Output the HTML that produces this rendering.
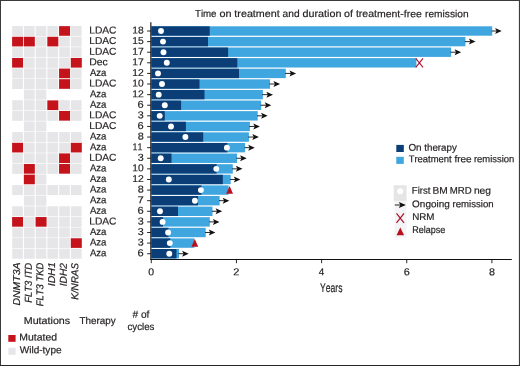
<!DOCTYPE html>
<html lang="en"><head><meta charset="utf-8"><title>Time on treatment and duration of treatment-free remission</title>
<style>
html,body{margin:0;padding:0;background:#fff;}
body{width:520px;height:366px;overflow:hidden;}
svg{display:block;position:absolute;left:0;top:0;}
text{font-family:"Liberation Sans",sans-serif;fill:#231f20;stroke:#231f20;stroke-width:0.2;font-kerning:none;}
.i{font-style:italic;}
</style></head><body>
<svg width="520" height="366" viewBox="0 0 520 366">
<defs><filter id="soft" x="0" y="0" width="520" height="366" filterUnits="userSpaceOnUse" color-interpolation-filters="sRGB"><feGaussianBlur stdDeviation="0.4"/></filter></defs>
<rect x="0" y="0" width="520" height="366" fill="#fff"/>
<g filter="url(#soft)">
<rect x="0" y="0" width="520" height="366" fill="#fff"/>
<g id="grid">
<rect x="12.2" y="26" width="10.7" height="10" fill="#e6e6e9"/>
<rect x="23.94" y="26" width="10.7" height="10" fill="#e6e6e9"/>
<rect x="35.68" y="26" width="10.7" height="10" fill="#e6e6e9"/>
<rect x="47.42" y="26" width="10.7" height="10" fill="#e6e6e9"/>
<rect x="59.06" y="26.15" width="11" height="9.65" fill="#c5131c"/>
<rect x="70.9" y="26" width="10.7" height="10" fill="#e6e6e9"/>
<rect x="12.1" y="36.76" width="11" height="9.65" fill="#c5131c"/>
<rect x="23.84" y="36.76" width="11" height="9.65" fill="#c5131c"/>
<rect x="35.68" y="36.61" width="10.7" height="10" fill="#e6e6e9"/>
<rect x="47.32" y="36.76" width="11" height="9.65" fill="#c5131c"/>
<rect x="59.16" y="36.61" width="10.7" height="10" fill="#e6e6e9"/>
<rect x="70.9" y="36.61" width="10.7" height="10" fill="#e6e6e9"/>
<rect x="12.2" y="47.21" width="10.7" height="10" fill="#e6e6e9"/>
<rect x="23.94" y="47.21" width="10.7" height="10" fill="#e6e6e9"/>
<rect x="35.68" y="47.21" width="10.7" height="10" fill="#e6e6e9"/>
<rect x="47.42" y="47.21" width="10.7" height="10" fill="#e6e6e9"/>
<rect x="59.16" y="47.21" width="10.7" height="10" fill="#e6e6e9"/>
<rect x="70.9" y="47.21" width="10.7" height="10" fill="#e6e6e9"/>
<rect x="12.1" y="57.96" width="11" height="9.65" fill="#c5131c"/>
<rect x="23.94" y="57.81" width="10.7" height="10" fill="#e6e6e9"/>
<rect x="35.68" y="57.81" width="10.7" height="10" fill="#e6e6e9"/>
<rect x="47.42" y="57.81" width="10.7" height="10" fill="#e6e6e9"/>
<rect x="59.16" y="57.81" width="10.7" height="10" fill="#e6e6e9"/>
<rect x="70.8" y="57.96" width="11" height="9.65" fill="#c5131c"/>
<rect x="12.2" y="68.42" width="10.7" height="10" fill="#e6e6e9"/>
<rect x="23.94" y="68.42" width="10.7" height="10" fill="#e6e6e9"/>
<rect x="35.68" y="68.42" width="10.7" height="10" fill="#e6e6e9"/>
<rect x="47.42" y="68.42" width="10.7" height="10" fill="#e6e6e9"/>
<rect x="59.06" y="68.57" width="11" height="9.65" fill="#c5131c"/>
<rect x="70.9" y="68.42" width="10.7" height="10" fill="#e6e6e9"/>
<rect x="12.2" y="79.03" width="10.7" height="10" fill="#e6e6e9"/>
<rect x="23.94" y="79.03" width="10.7" height="10" fill="#e6e6e9"/>
<rect x="35.68" y="79.03" width="10.7" height="10" fill="#e6e6e9"/>
<rect x="47.42" y="79.03" width="10.7" height="10" fill="#e6e6e9"/>
<rect x="59.06" y="79.18" width="11" height="9.65" fill="#c5131c"/>
<rect x="70.9" y="79.03" width="10.7" height="10" fill="#e6e6e9"/>
<rect x="23.94" y="89.63" width="10.7" height="10" fill="#e6e6e9"/>
<rect x="35.68" y="89.63" width="10.7" height="10" fill="#e6e6e9"/>
<rect x="12.2" y="100.23" width="10.7" height="10" fill="#e6e6e9"/>
<rect x="23.94" y="100.23" width="10.7" height="10" fill="#e6e6e9"/>
<rect x="35.68" y="100.23" width="10.7" height="10" fill="#e6e6e9"/>
<rect x="47.32" y="100.39" width="11" height="9.65" fill="#c5131c"/>
<rect x="59.16" y="100.23" width="10.7" height="10" fill="#e6e6e9"/>
<rect x="70.9" y="100.23" width="10.7" height="10" fill="#e6e6e9"/>
<rect x="12.2" y="110.84" width="10.7" height="10" fill="#e6e6e9"/>
<rect x="23.94" y="110.84" width="10.7" height="10" fill="#e6e6e9"/>
<rect x="35.68" y="110.84" width="10.7" height="10" fill="#e6e6e9"/>
<rect x="47.42" y="110.84" width="10.7" height="10" fill="#e6e6e9"/>
<rect x="59.06" y="110.99" width="11" height="9.65" fill="#c5131c"/>
<rect x="70.9" y="110.84" width="10.7" height="10" fill="#e6e6e9"/>
<rect x="23.94" y="121.45" width="10.7" height="10" fill="#e6e6e9"/>
<rect x="35.68" y="121.45" width="10.7" height="10" fill="#e6e6e9"/>
<rect x="12.2" y="132.05" width="10.7" height="10" fill="#e6e6e9"/>
<rect x="23.94" y="132.05" width="10.7" height="10" fill="#e6e6e9"/>
<rect x="35.68" y="132.05" width="10.7" height="10" fill="#e6e6e9"/>
<rect x="47.42" y="132.05" width="10.7" height="10" fill="#e6e6e9"/>
<rect x="59.16" y="132.05" width="10.7" height="10" fill="#e6e6e9"/>
<rect x="70.9" y="132.05" width="10.7" height="10" fill="#e6e6e9"/>
<rect x="12.1" y="142.81" width="11" height="9.65" fill="#c5131c"/>
<rect x="23.94" y="142.66" width="10.7" height="10" fill="#e6e6e9"/>
<rect x="35.68" y="142.66" width="10.7" height="10" fill="#e6e6e9"/>
<rect x="47.42" y="142.66" width="10.7" height="10" fill="#e6e6e9"/>
<rect x="59.16" y="142.66" width="10.7" height="10" fill="#e6e6e9"/>
<rect x="70.8" y="142.81" width="11" height="9.65" fill="#c5131c"/>
<rect x="12.2" y="153.26" width="10.7" height="10" fill="#e6e6e9"/>
<rect x="23.94" y="153.26" width="10.7" height="10" fill="#e6e6e9"/>
<rect x="35.68" y="153.26" width="10.7" height="10" fill="#e6e6e9"/>
<rect x="47.42" y="153.26" width="10.7" height="10" fill="#e6e6e9"/>
<rect x="59.06" y="153.41" width="11" height="9.65" fill="#c5131c"/>
<rect x="70.9" y="153.26" width="10.7" height="10" fill="#e6e6e9"/>
<rect x="12.2" y="163.87" width="10.7" height="10" fill="#e6e6e9"/>
<rect x="23.84" y="164.02" width="11" height="9.65" fill="#c5131c"/>
<rect x="35.68" y="163.87" width="10.7" height="10" fill="#e6e6e9"/>
<rect x="47.42" y="163.87" width="10.7" height="10" fill="#e6e6e9"/>
<rect x="59.06" y="164.02" width="11" height="9.65" fill="#c5131c"/>
<rect x="70.9" y="163.87" width="10.7" height="10" fill="#e6e6e9"/>
<rect x="23.84" y="174.62" width="11" height="9.65" fill="#c5131c"/>
<rect x="35.68" y="174.47" width="10.7" height="10" fill="#e6e6e9"/>
<rect x="12.2" y="185.08" width="10.7" height="10" fill="#e6e6e9"/>
<rect x="23.94" y="185.08" width="10.7" height="10" fill="#e6e6e9"/>
<rect x="35.68" y="185.08" width="10.7" height="10" fill="#e6e6e9"/>
<rect x="47.42" y="185.08" width="10.7" height="10" fill="#e6e6e9"/>
<rect x="59.16" y="185.08" width="10.7" height="10" fill="#e6e6e9"/>
<rect x="70.9" y="185.08" width="10.7" height="10" fill="#e6e6e9"/>
<rect x="23.94" y="195.68" width="10.7" height="10" fill="#e6e6e9"/>
<rect x="35.68" y="195.68" width="10.7" height="10" fill="#e6e6e9"/>
<rect x="12.2" y="206.28" width="10.7" height="10" fill="#e6e6e9"/>
<rect x="23.94" y="206.28" width="10.7" height="10" fill="#e6e6e9"/>
<rect x="35.68" y="206.28" width="10.7" height="10" fill="#e6e6e9"/>
<rect x="47.42" y="206.28" width="10.7" height="10" fill="#e6e6e9"/>
<rect x="59.16" y="206.28" width="10.7" height="10" fill="#e6e6e9"/>
<rect x="70.9" y="206.28" width="10.7" height="10" fill="#e6e6e9"/>
<rect x="12.1" y="217.04" width="11" height="9.65" fill="#c5131c"/>
<rect x="23.94" y="216.89" width="10.7" height="10" fill="#e6e6e9"/>
<rect x="35.58" y="217.04" width="11" height="9.65" fill="#c5131c"/>
<rect x="47.42" y="216.89" width="10.7" height="10" fill="#e6e6e9"/>
<rect x="59.16" y="216.89" width="10.7" height="10" fill="#e6e6e9"/>
<rect x="70.9" y="216.89" width="10.7" height="10" fill="#e6e6e9"/>
<rect x="12.2" y="227.5" width="10.7" height="10" fill="#e6e6e9"/>
<rect x="23.94" y="227.5" width="10.7" height="10" fill="#e6e6e9"/>
<rect x="35.68" y="227.5" width="10.7" height="10" fill="#e6e6e9"/>
<rect x="47.42" y="227.5" width="10.7" height="10" fill="#e6e6e9"/>
<rect x="59.16" y="227.5" width="10.7" height="10" fill="#e6e6e9"/>
<rect x="70.9" y="227.5" width="10.7" height="10" fill="#e6e6e9"/>
<rect x="12.2" y="238.1" width="10.7" height="10" fill="#e6e6e9"/>
<rect x="23.94" y="238.1" width="10.7" height="10" fill="#e6e6e9"/>
<rect x="35.68" y="238.1" width="10.7" height="10" fill="#e6e6e9"/>
<rect x="47.42" y="238.1" width="10.7" height="10" fill="#e6e6e9"/>
<rect x="59.16" y="238.1" width="10.7" height="10" fill="#e6e6e9"/>
<rect x="70.8" y="238.25" width="11" height="9.65" fill="#c5131c"/>
<rect x="12.2" y="248.71" width="10.7" height="10" fill="#e6e6e9"/>
<rect x="23.94" y="248.71" width="10.7" height="10" fill="#e6e6e9"/>
<rect x="35.68" y="248.71" width="10.7" height="10" fill="#e6e6e9"/>
<rect x="47.42" y="248.71" width="10.7" height="10" fill="#e6e6e9"/>
<rect x="59.16" y="248.71" width="10.7" height="10" fill="#e6e6e9"/>
<rect x="70.9" y="248.71" width="10.7" height="10" fill="#e6e6e9"/>
</g>
<g id="labels">
<text transform="translate(89.26 33.5) rotate(0.04)" font-size="10" textLength="27.23" lengthAdjust="spacingAndGlyphs">LDAC</text>
<text transform="translate(132.22 33.5) rotate(0.04)" font-size="10" textLength="11.43" lengthAdjust="spacingAndGlyphs">18</text>
<text transform="translate(89.26 44.11) rotate(0.04)" font-size="10" textLength="27.23" lengthAdjust="spacingAndGlyphs">LDAC</text>
<text transform="translate(132.22 44.11) rotate(0.04)" font-size="10" textLength="11.41" lengthAdjust="spacingAndGlyphs">15</text>
<text transform="translate(89.26 54.71) rotate(0.04)" font-size="10" textLength="27.23" lengthAdjust="spacingAndGlyphs">LDAC</text>
<text transform="translate(132.21 54.71) rotate(0.04)" font-size="10" textLength="11.51" lengthAdjust="spacingAndGlyphs">17</text>
<text transform="translate(89.25 65.31) rotate(0.04)" font-size="10" textLength="18.53" lengthAdjust="spacingAndGlyphs">Dec</text>
<text transform="translate(132.21 65.31) rotate(0.04)" font-size="10" textLength="11.51" lengthAdjust="spacingAndGlyphs">17</text>
<text transform="translate(89.88 75.92) rotate(0.04)" font-size="10" textLength="16.42" lengthAdjust="spacingAndGlyphs">Aza</text>
<text transform="translate(132.21 75.92) rotate(0.04)" font-size="10" textLength="11.51" lengthAdjust="spacingAndGlyphs">12</text>
<text transform="translate(89.26 86.53) rotate(0.04)" font-size="10" textLength="27.23" lengthAdjust="spacingAndGlyphs">LDAC</text>
<text transform="translate(132.22 86.53) rotate(0.04)" font-size="10" textLength="11.38" lengthAdjust="spacingAndGlyphs">10</text>
<text transform="translate(89.88 97.13) rotate(0.04)" font-size="10" textLength="16.42" lengthAdjust="spacingAndGlyphs">Aza</text>
<text transform="translate(132.21 97.13) rotate(0.04)" font-size="10" textLength="11.51" lengthAdjust="spacingAndGlyphs">12</text>
<text transform="translate(89.88 107.73) rotate(0.04)" font-size="10" textLength="16.42" lengthAdjust="spacingAndGlyphs">Aza</text>
<text transform="translate(137.54 107.73) rotate(0.04)" font-size="10" textLength="6.15" lengthAdjust="spacingAndGlyphs">6</text>
<text transform="translate(89.26 118.34) rotate(0.04)" font-size="10" textLength="27.23" lengthAdjust="spacingAndGlyphs">LDAC</text>
<text transform="translate(137.69 118.34) rotate(0.04)" font-size="10" textLength="5.98" lengthAdjust="spacingAndGlyphs">3</text>
<text transform="translate(89.26 128.94) rotate(0.04)" font-size="10" textLength="27.23" lengthAdjust="spacingAndGlyphs">LDAC</text>
<text transform="translate(137.54 128.94) rotate(0.04)" font-size="10" textLength="6.15" lengthAdjust="spacingAndGlyphs">6</text>
<text transform="translate(89.88 139.55) rotate(0.04)" font-size="10" textLength="16.42" lengthAdjust="spacingAndGlyphs">Aza</text>
<text transform="translate(137.63 139.55) rotate(0.04)" font-size="10" textLength="6.04" lengthAdjust="spacingAndGlyphs">8</text>
<text transform="translate(89.88 150.16) rotate(0.04)" font-size="10" textLength="16.42" lengthAdjust="spacingAndGlyphs">Aza</text>
<text transform="translate(132.62 150.16) rotate(0.04)" font-size="10" textLength="9.91" lengthAdjust="spacingAndGlyphs">11</text>
<text transform="translate(89.26 160.76) rotate(0.04)" font-size="10" textLength="27.23" lengthAdjust="spacingAndGlyphs">LDAC</text>
<text transform="translate(137.69 160.76) rotate(0.04)" font-size="10" textLength="5.98" lengthAdjust="spacingAndGlyphs">3</text>
<text transform="translate(89.88 171.37) rotate(0.04)" font-size="10" textLength="16.42" lengthAdjust="spacingAndGlyphs">Aza</text>
<text transform="translate(132.22 171.37) rotate(0.04)" font-size="10" textLength="11.38" lengthAdjust="spacingAndGlyphs">10</text>
<text transform="translate(89.88 181.97) rotate(0.04)" font-size="10" textLength="16.42" lengthAdjust="spacingAndGlyphs">Aza</text>
<text transform="translate(132.21 181.97) rotate(0.04)" font-size="10" textLength="11.51" lengthAdjust="spacingAndGlyphs">12</text>
<text transform="translate(89.88 192.58) rotate(0.04)" font-size="10" textLength="16.42" lengthAdjust="spacingAndGlyphs">Aza</text>
<text transform="translate(137.63 192.58) rotate(0.04)" font-size="10" textLength="6.04" lengthAdjust="spacingAndGlyphs">8</text>
<text transform="translate(89.88 203.18) rotate(0.04)" font-size="10" textLength="16.42" lengthAdjust="spacingAndGlyphs">Aza</text>
<text transform="translate(137.52 203.18) rotate(0.04)" font-size="10" textLength="6.24" lengthAdjust="spacingAndGlyphs">7</text>
<text transform="translate(89.88 213.78) rotate(0.04)" font-size="10" textLength="16.42" lengthAdjust="spacingAndGlyphs">Aza</text>
<text transform="translate(137.54 213.78) rotate(0.04)" font-size="10" textLength="6.15" lengthAdjust="spacingAndGlyphs">6</text>
<text transform="translate(89.26 224.39) rotate(0.04)" font-size="10" textLength="27.23" lengthAdjust="spacingAndGlyphs">LDAC</text>
<text transform="translate(137.69 224.39) rotate(0.04)" font-size="10" textLength="5.98" lengthAdjust="spacingAndGlyphs">3</text>
<text transform="translate(89.88 235) rotate(0.04)" font-size="10" textLength="16.42" lengthAdjust="spacingAndGlyphs">Aza</text>
<text transform="translate(137.69 235) rotate(0.04)" font-size="10" textLength="5.98" lengthAdjust="spacingAndGlyphs">3</text>
<text transform="translate(89.88 245.6) rotate(0.04)" font-size="10" textLength="16.42" lengthAdjust="spacingAndGlyphs">Aza</text>
<text transform="translate(137.69 245.6) rotate(0.04)" font-size="10" textLength="5.98" lengthAdjust="spacingAndGlyphs">3</text>
<text transform="translate(89.88 256.21) rotate(0.04)" font-size="10" textLength="16.42" lengthAdjust="spacingAndGlyphs">Aza</text>
<text transform="translate(137.54 256.21) rotate(0.04)" font-size="10" textLength="6.15" lengthAdjust="spacingAndGlyphs">6</text>
</g>
<g id="bars">
<rect x="151.4" y="26.3" width="340.8" height="9.4" fill="#40a6e0"/>
<rect x="151.4" y="26.3" width="58.3" height="9.4" fill="#0b3e76"/>
<rect x="151.4" y="36.91" width="314" height="9.4" fill="#40a6e0"/>
<rect x="151.4" y="36.91" width="56.6" height="9.4" fill="#0b3e76"/>
<rect x="151.4" y="47.51" width="299.7" height="9.4" fill="#40a6e0"/>
<rect x="151.4" y="47.51" width="76.7" height="9.4" fill="#0b3e76"/>
<rect x="151.4" y="58.11" width="265" height="9.4" fill="#40a6e0"/>
<rect x="151.4" y="58.11" width="85.9" height="9.4" fill="#0b3e76"/>
<rect x="151.4" y="68.72" width="134.4" height="9.4" fill="#40a6e0"/>
<rect x="151.4" y="68.72" width="87.6" height="9.4" fill="#0b3e76"/>
<rect x="151.4" y="79.33" width="118.6" height="9.4" fill="#40a6e0"/>
<rect x="151.4" y="79.33" width="48.1" height="9.4" fill="#0b3e76"/>
<rect x="151.4" y="89.93" width="111.5" height="9.4" fill="#40a6e0"/>
<rect x="151.4" y="89.93" width="53.1" height="9.4" fill="#0b3e76"/>
<rect x="151.4" y="100.53" width="109.8" height="9.4" fill="#40a6e0"/>
<rect x="151.4" y="100.53" width="29.7" height="9.4" fill="#0b3e76"/>
<rect x="151.4" y="111.14" width="106.3" height="9.4" fill="#40a6e0"/>
<rect x="151.4" y="111.14" width="13.4" height="9.4" fill="#0b3e76"/>
<rect x="151.4" y="121.75" width="98.5" height="9.4" fill="#40a6e0"/>
<rect x="151.4" y="121.75" width="34.5" height="9.4" fill="#0b3e76"/>
<rect x="151.4" y="132.35" width="97.5" height="9.4" fill="#40a6e0"/>
<rect x="151.4" y="132.35" width="51.8" height="9.4" fill="#0b3e76"/>
<rect x="151.4" y="142.96" width="93.7" height="9.4" fill="#40a6e0"/>
<rect x="151.4" y="142.96" width="76" height="9.4" fill="#0b3e76"/>
<rect x="151.4" y="153.56" width="85.6" height="9.4" fill="#40a6e0"/>
<rect x="151.4" y="153.56" width="20.1" height="9.4" fill="#0b3e76"/>
<rect x="151.4" y="164.17" width="81.4" height="9.4" fill="#40a6e0"/>
<rect x="151.4" y="164.17" width="65.2" height="9.4" fill="#0b3e76"/>
<rect x="151.4" y="174.77" width="79.3" height="9.4" fill="#40a6e0"/>
<rect x="151.4" y="174.77" width="71.4" height="9.4" fill="#0b3e76"/>
<rect x="151.4" y="185.38" width="77.2" height="9.4" fill="#40a6e0"/>
<rect x="151.4" y="185.38" width="50" height="9.4" fill="#0b3e76"/>
<rect x="151.4" y="195.98" width="68.2" height="9.4" fill="#40a6e0"/>
<rect x="151.4" y="195.98" width="46.6" height="9.4" fill="#0b3e76"/>
<rect x="151.4" y="206.59" width="61.1" height="9.4" fill="#40a6e0"/>
<rect x="151.4" y="206.59" width="26.6" height="9.4" fill="#0b3e76"/>
<rect x="151.4" y="217.19" width="58.4" height="9.4" fill="#40a6e0"/>
<rect x="151.4" y="217.19" width="11.6" height="9.4" fill="#0b3e76"/>
<rect x="151.4" y="227.8" width="54.3" height="9.4" fill="#40a6e0"/>
<rect x="151.4" y="227.8" width="17.1" height="9.4" fill="#0b3e76"/>
<rect x="151.4" y="238.4" width="43" height="9.4" fill="#40a6e0"/>
<rect x="151.4" y="238.4" width="18.9" height="9.4" fill="#0b3e76"/>
<rect x="151.4" y="249.01" width="27.6" height="9.4" fill="#40a6e0"/>
<rect x="151.4" y="249.01" width="25.1" height="9.4" fill="#0b3e76"/>
</g>
<g id="markers">
<path d="M491.6 31H496.7" stroke="#111111" stroke-width="0.9" fill="none"/>
<path d="M501.7 31L495.1 28L496.5 31L495.1 34Z" fill="#111111"/>
<circle cx="161" cy="31" r="2.95" fill="#fff"/>
<path d="M464.8 41.61H470.5" stroke="#111111" stroke-width="0.9" fill="none"/>
<path d="M475.5 41.61L468.9 38.61L470.3 41.61L468.9 44.61Z" fill="#111111"/>
<circle cx="163" cy="41.61" r="2.95" fill="#fff"/>
<path d="M450.5 52.21H456.2" stroke="#111111" stroke-width="0.9" fill="none"/>
<path d="M461.2 52.21L454.6 49.21L456 52.21L454.6 55.21Z" fill="#111111"/>
<circle cx="163.5" cy="52.21" r="2.95" fill="#fff"/>
<path d="M415.8 58.41L423 67.41M423 58.41L415.8 67.41" stroke="#a9122c" stroke-width="1.1" fill="none"/>
<circle cx="166.8" cy="62.81" r="2.95" fill="#fff"/>
<path d="M285.2 73.42H291.1" stroke="#111111" stroke-width="0.9" fill="none"/>
<path d="M296.1 73.42L289.5 70.42L290.9 73.42L289.5 76.42Z" fill="#111111"/>
<circle cx="158" cy="73.42" r="2.95" fill="#fff"/>
<path d="M269.4 84.03H275.1" stroke="#111111" stroke-width="0.9" fill="none"/>
<path d="M280.1 84.03L273.5 81.03L274.9 84.03L273.5 87.03Z" fill="#111111"/>
<circle cx="162" cy="84.03" r="2.95" fill="#fff"/>
<path d="M262.3 94.63H268" stroke="#111111" stroke-width="0.9" fill="none"/>
<path d="M273 94.63L266.4 91.63L267.8 94.63L266.4 97.63Z" fill="#111111"/>
<circle cx="158.7" cy="94.63" r="2.95" fill="#fff"/>
<path d="M260.6 105.23H266.3" stroke="#111111" stroke-width="0.9" fill="none"/>
<path d="M271.3 105.23L264.7 102.23L266.1 105.23L264.7 108.23Z" fill="#111111"/>
<circle cx="164.8" cy="105.23" r="2.95" fill="#fff"/>
<path d="M257.1 115.84H262.7" stroke="#111111" stroke-width="0.9" fill="none"/>
<path d="M267.7 115.84L261.1 112.84L262.5 115.84L261.1 118.84Z" fill="#111111"/>
<circle cx="159.7" cy="115.84" r="2.95" fill="#fff"/>
<path d="M249.3 126.45H254.9" stroke="#111111" stroke-width="0.9" fill="none"/>
<path d="M259.9 126.45L253.3 123.45L254.7 126.45L253.3 129.44Z" fill="#111111"/>
<circle cx="171" cy="126.45" r="2.95" fill="#fff"/>
<path d="M248.3 137.05H253.9" stroke="#111111" stroke-width="0.9" fill="none"/>
<path d="M258.9 137.05L252.3 134.05L253.7 137.05L252.3 140.05Z" fill="#111111"/>
<circle cx="185.4" cy="137.05" r="2.95" fill="#fff"/>
<path d="M244.5 147.66H249.8" stroke="#111111" stroke-width="0.9" fill="none"/>
<path d="M254.8 147.66L248.2 144.66L249.6 147.66L248.2 150.66Z" fill="#111111"/>
<circle cx="226.9" cy="147.66" r="2.95" fill="#fff"/>
<path d="M236.4 158.26H241.7" stroke="#111111" stroke-width="0.9" fill="none"/>
<path d="M246.7 158.26L240.1 155.26L241.5 158.26L240.1 161.26Z" fill="#111111"/>
<circle cx="160.7" cy="158.26" r="2.95" fill="#fff"/>
<path d="M232.2 168.87H237.5" stroke="#111111" stroke-width="0.9" fill="none"/>
<path d="M242.5 168.87L235.9 165.87L237.3 168.87L235.9 171.87Z" fill="#111111"/>
<circle cx="216.3" cy="168.87" r="2.95" fill="#fff"/>
<path d="M230.1 179.47H235.4" stroke="#111111" stroke-width="0.9" fill="none"/>
<path d="M240.4 179.47L233.8 176.47L235.2 179.47L233.8 182.47Z" fill="#111111"/>
<circle cx="168.8" cy="179.47" r="2.95" fill="#fff"/>
<path d="M229.6 185.98L233 193.68L226.2 193.68Z" fill="#b8101f"/>
<circle cx="200.9" cy="190.08" r="2.95" fill="#fff"/>
<path d="M219 200.68H224.3" stroke="#111111" stroke-width="0.9" fill="none"/>
<path d="M229.3 200.68L222.7 197.68L224.1 200.68L222.7 203.68Z" fill="#111111"/>
<circle cx="194.9" cy="200.68" r="2.95" fill="#fff"/>
<path d="M211.9 211.28H217.2" stroke="#111111" stroke-width="0.9" fill="none"/>
<path d="M222.2 211.28L215.6 208.28L217 211.28L215.6 214.28Z" fill="#111111"/>
<circle cx="160" cy="211.28" r="2.95" fill="#fff"/>
<path d="M209.2 221.89H214.5" stroke="#111111" stroke-width="0.9" fill="none"/>
<path d="M219.5 221.89L212.9 218.89L214.3 221.89L212.9 224.89Z" fill="#111111"/>
<circle cx="162.6" cy="221.89" r="2.95" fill="#fff"/>
<path d="M205.1 232.5H210.4" stroke="#111111" stroke-width="0.9" fill="none"/>
<path d="M215.4 232.5L208.8 229.5L210.2 232.5L208.8 235.5Z" fill="#111111"/>
<circle cx="168.1" cy="232.5" r="2.95" fill="#fff"/>
<path d="M194.8 239L198.2 246.7L191.4 246.7Z" fill="#b8101f"/>
<circle cx="169.8" cy="243.1" r="2.95" fill="#fff"/>
<path d="M178.4 253.71H183.7" stroke="#111111" stroke-width="0.9" fill="none"/>
<path d="M188.7 253.71L182.1 250.71L183.5 253.71L182.1 256.71Z" fill="#111111"/>
<circle cx="169.3" cy="253.71" r="2.95" fill="#fff"/>
</g>
<g id="axes" stroke="#111111" fill="none">
<path d="M150.85 22.2V260" stroke-width="1.15"/>
<path d="M150.3 259.5H511.8" stroke-width="1.1"/>
<path d="M147.1 31H151M147.1 41.61H151M147.1 52.21H151M147.1 62.81H151M147.1 73.42H151M147.1 84.03H151M147.1 94.63H151M147.1 105.23H151M147.1 115.84H151M147.1 126.45H151M147.1 137.05H151M147.1 147.66H151M147.1 158.26H151M147.1 168.87H151M147.1 179.47H151M147.1 190.08H151M147.1 200.68H151M147.1 211.28H151M147.1 221.89H151M147.1 232.5H151M147.1 243.1H151M147.1 253.71H151" stroke-width="0.9"/>
<path d="M151.3 259.5V263.2M236.45 259.5V263.2M321.6 259.5V263.2M406.75 259.5V263.2M491.9 259.5V263.2" stroke-width="0.9"/>
</g>
<g id="xticks">
<text transform="translate(148.34 275.3) rotate(0.04)" font-size="10" textLength="5.82" lengthAdjust="spacingAndGlyphs">0</text>
<text transform="translate(233.37 275.3) rotate(0.04)" font-size="10" textLength="6.1" lengthAdjust="spacingAndGlyphs">2</text>
<text transform="translate(318.86 275.3) rotate(0.04)" font-size="10" textLength="5.52" lengthAdjust="spacingAndGlyphs">4</text>
<text transform="translate(403.71 275.3) rotate(0.04)" font-size="10" textLength="6.03" lengthAdjust="spacingAndGlyphs">6</text>
<text transform="translate(488.97 275.3) rotate(0.04)" font-size="10" textLength="5.93" lengthAdjust="spacingAndGlyphs">8</text>
</g>
<text transform="translate(320.01 291.6) rotate(0.04)" font-size="12.4" textLength="22.5" lengthAdjust="spacingAndGlyphs" stroke-width="0.3">Years</text>
<text y="17.1" font-size="10.2" transform="rotate(0.04 331.55 17.1)" stroke-width="0.16"><tspan x="194.98" textLength="21.55" lengthAdjust="spacingAndGlyphs">Time</tspan> <tspan x="219.54" textLength="12.06" lengthAdjust="spacingAndGlyphs">on</tspan> <tspan x="234.34" textLength="45.44" lengthAdjust="spacingAndGlyphs">treatment</tspan> <tspan x="282.57" textLength="16.99" lengthAdjust="spacingAndGlyphs">and</tspan> <tspan x="302.45" textLength="38.95" lengthAdjust="spacingAndGlyphs">duration</tspan> <tspan x="344.05" textLength="8.93" lengthAdjust="spacingAndGlyphs">of</tspan> <tspan x="355.94" textLength="65.93" lengthAdjust="spacingAndGlyphs">treatment-free</tspan> <tspan x="425.02" textLength="43.54" lengthAdjust="spacingAndGlyphs">remission</tspan></text>
<g id="cols" class="i">
<text transform="translate(20 305.3) rotate(-89.96)" x="-0.32" y="0" font-size="10" textLength="43.09" lengthAdjust="spacingAndGlyphs">DNMT3A</text>
<text transform="translate(31.66 302.5) rotate(-89.96)" x="-0.29" y="0" font-size="10" textLength="40" lengthAdjust="spacingAndGlyphs">FLT3 ITD</text>
<text transform="translate(43.32 305.9) rotate(-89.96)" x="-0.29" y="0" font-size="10" textLength="43.39" lengthAdjust="spacingAndGlyphs">FLT3 TKD</text>
<text transform="translate(54.98 285.9) rotate(-89.96)" x="-0.42" y="0" font-size="10" textLength="24.11" lengthAdjust="spacingAndGlyphs">IDH1</text>
<text transform="translate(66.64 285.9) rotate(-89.96)" x="-0.41" y="0" font-size="10" textLength="23.36" lengthAdjust="spacingAndGlyphs">IDH2</text>
<text transform="translate(78.3 299.4) rotate(-89.96)" x="-0.3" y="0" font-size="10" textLength="36.71" lengthAdjust="spacingAndGlyphs">K/NRAS</text>
</g>
<g id="bottom">
<text transform="translate(23.72 324) rotate(0.04)" font-size="10" textLength="46.47" lengthAdjust="spacingAndGlyphs">Mutations</text>
<text transform="translate(79.48 324) rotate(0.04)" font-size="10" textLength="36.24" lengthAdjust="spacingAndGlyphs">Therapy</text>
<text transform="translate(132.46 317.7) rotate(0.04)" font-size="10" textLength="16.93" lengthAdjust="spacingAndGlyphs"># of</text>
<text transform="translate(127.39 329.9) rotate(0.04)" font-size="10" textLength="27.07" lengthAdjust="spacingAndGlyphs">cycles</text>
<rect x="8.3" y="335" width="7.3" height="6.8" fill="#c5131c"/>
<rect x="8.3" y="347.8" width="7.3" height="7" fill="#e7e7eb"/>
<text transform="translate(19.35 340.6) rotate(0.04)" font-size="10" textLength="37.63" lengthAdjust="spacingAndGlyphs">Mutated</text>
<text transform="translate(19.76 353.2) rotate(0.04)" font-size="10" textLength="41.79" lengthAdjust="spacingAndGlyphs">Wild-type</text>
</g>
<g id="legend1">
<rect x="396.3" y="144.9" width="7.5" height="7.1" fill="#0b3e76"/>
<rect x="396.3" y="156.8" width="7.5" height="7.1" fill="#40a6e0"/>
<text y="150.8" font-size="9.8" transform="rotate(0.04 432.85 150.8)"><tspan x="408.43" textLength="13.21" lengthAdjust="spacingAndGlyphs">On</tspan> <tspan x="424.25" textLength="32.57" lengthAdjust="spacingAndGlyphs">therapy</tspan></text>
<text y="162.3" font-size="9.8" transform="rotate(0.04 461.3 162.3)"><tspan x="408.69" textLength="42.98" lengthAdjust="spacingAndGlyphs">Treatment</tspan> <tspan x="454.46" textLength="17.18" lengthAdjust="spacingAndGlyphs">free</tspan> <tspan x="473.97" textLength="40.34" lengthAdjust="spacingAndGlyphs">remission</tspan></text>
</g>
<g id="legend2">
<rect x="394.6" y="200" width="11.9" height="37.8" fill="#f4f4f7"/>
<rect x="393.7" y="185.2" width="12.9" height="15.6" fill="#e5e5e7"/>
<circle cx="400.2" cy="191.3" r="3" fill="#fff"/>
<path d="M394.8 205H400.6" stroke="#111111" stroke-width="0.9" fill="none"/>
<path d="M405.9 205L398.9 202L400.3 205L398.9 208Z" fill="#111111"/>
<path d="M396.5 213.3L404 222.8M404 213.3L396.5 222.8" stroke="#a9122c" stroke-width="1.2" fill="none"/>
<path d="M400.3 227.6L404.1 235.2L396.5 235.2Z" fill="#b8101f"/>
<text y="193.8" font-size="9.8" transform="rotate(0.04 451.5 193.8)"><tspan x="411.82" textLength="18.55" lengthAdjust="spacingAndGlyphs">First</tspan> <tspan x="432.56" textLength="15.27" lengthAdjust="spacingAndGlyphs">BM</tspan> <tspan x="449.81" textLength="21.95" lengthAdjust="spacingAndGlyphs">MRD</tspan> <tspan x="473.92" textLength="17.14" lengthAdjust="spacingAndGlyphs">neg</tspan></text>
<text y="207.2" font-size="9.8" transform="rotate(0.04 452.8 207.2)"><tspan x="412.13" textLength="37.61" lengthAdjust="spacingAndGlyphs">Ongoing</tspan> <tspan x="452.46" textLength="41.16" lengthAdjust="spacingAndGlyphs">remission</tspan></text>
<text transform="translate(412.2 220) rotate(0.04)" font-size="9.8" textLength="22.31" lengthAdjust="spacingAndGlyphs">NRM</text>
<text transform="translate(412.26 233.1) rotate(0.04)" font-size="9.8" textLength="33.04" lengthAdjust="spacingAndGlyphs">Relapse</text>
</g>
</g>
<path d="M0.5 0V366M0 0.5H520" stroke="#3a3a3a" stroke-width="1" fill="none"/>
<path d="M519.45 0V366" stroke="#3c3c3c" stroke-width="1.1" fill="none"/>
<path d="M0 365.45H520" stroke="#262626" stroke-width="1.1" fill="none"/>
</svg>
</body></html>
